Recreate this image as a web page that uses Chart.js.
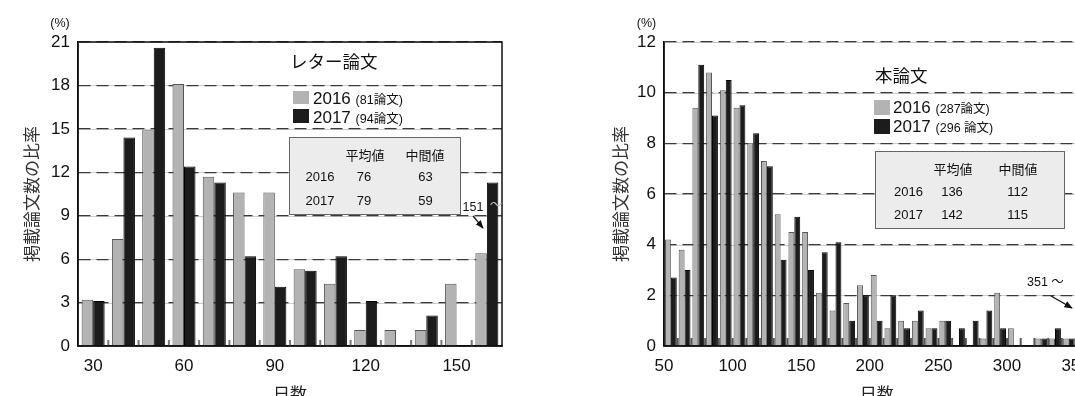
<!DOCTYPE html>
<html lang="ja">
<head>
<meta charset="utf-8">
<title>掲載日数の分布</title>
<script src="https://cdn.jsdelivr.net/npm/chart.js"></script>
<style>
  html, body { margin: 0; padding: 0; background: #fff; }
  #page { position: relative; width: 1075px; height: 396px; overflow: hidden;
          font-family: "Liberation Sans", Arial, "Noto Sans CJK JP", sans-serif; color: #111; }
  canvas { position: absolute; top: 0; }
  .t { position: absolute; white-space: nowrap; line-height: 1; transform: translate(-50%, -50%); }
  .l { position: absolute; white-space: nowrap; line-height: 1; transform: translateY(-50%); }
  .box { position: absolute; background: #ececec; border: 1px solid #666; box-sizing: border-box; }
  .sw { position: absolute; box-sizing: border-box; }
  svg { position: absolute; left: 0; top: 0; }
</style>
</head>
<body>
<div id="page">
  <canvas id="letterChart" width="520" height="420" style="left:0"></canvas>
  <canvas id="honChart" width="520" height="420" style="left:590px"></canvas>
  <svg width="1075" height="396">
    <defs>
      <marker id="head" viewBox="0 0 10 10" refX="9" refY="5" markerWidth="7" markerHeight="7" orient="auto">
        <path d="M0,1 L10,5 L0,9 z" fill="#111"></path>
      </marker>
    </defs>
    <line x1="473" y1="216" x2="483" y2="228" stroke="#111" stroke-width="1.2" marker-end="url(#head)"></line>
    <line x1="1051" y1="296" x2="1072" y2="308" stroke="#111" stroke-width="1.2" marker-end="url(#head)"></line>
  </svg>
</div>
<script>
// values (% of papers per bin of days)
const years = ['2016', '2017'];

const letterCats = ['30', '40', '50', '60', '70', '80', '90', '100', '110', '120', '130', '140', '150', '151～'];
const letterTicks = ['30', '60', '90', '120', '150'];
const letter2016 = [3.2, 7.4, 14.9, 18.1, 11.7, 10.6, 10.6, 5.3, 4.3, 1.1, 1.1, 1.1, 4.3, 6.4];
const letter2017 = [3.1, 14.4, 20.6, 12.4, 11.3, 6.2, 4.1, 5.2, 6.2, 3.1, 0, 2.1, 0, 11.3];
const letterLegend = ['(81論文)', '(94論文)'];
const letterMean = [76, 79];
const letterMedian = [63, 59];

const honBinStart = [50, 60, 70, 80, 90, 100, 110, 120, 130, 140, 150, 160, 170, 180, 190, 200,
                     210, 220, 230, 240, 250, 260, 270, 280, 290, 300, 310, 320, 330, 340, 350];
const honBinWidth = 10;
const honTicks = [50, 100, 150, 200, 250, 300, 350];
const hon2016 = [4.2, 3.8, 9.4, 10.8, 10.1, 9.4, 8.0, 7.3, 5.2, 4.5, 4.5, 2.1, 1.4, 1.7, 2.4, 2.8,
                 0.7, 1.0, 1.0, 0.7, 1.0, 0, 0, 0.3, 2.1, 0.7, 0, 0.3, 0.3, 0.3, 3.9];
const hon2017 = [2.7, 3.0, 11.1, 9.1, 10.5, 9.5, 8.4, 7.1, 3.4, 5.1, 3.0, 3.7, 4.1, 1.0, 2.0, 1.0,
                 2.0, 0.7, 1.4, 0.7, 1.0, 0.7, 1.0, 1.4, 0.7, 0, 0, 0.3, 0.7, 0.3, 4.1];
const honLegend = ['(287論文)', '(296 論文)'];
const honMean = [136, 142];
const honMedian = [112, 115];

const FONT = "'Liberation Sans', Arial, 'Noto Sans CJK JP', sans-serif";
const grayFill = '#b3b3b3';
const blackFill = '#1c1c1c';

// faint solid line under each dashed grid line, inner tick stubs, axis lines / frame
const deco = {
  id: 'deco',
  beforeDraw(chart) {
    const { ctx, chartArea: a, scales: { y } } = chart;
    ctx.save();
    ctx.strokeStyle = '#cdcdcd';
    ctx.lineWidth = 1;
    y.ticks.forEach(t => {
      if (t.value === 0) return;
      const py = Math.round(y.getPixelForValue(t.value)) + 0.5;
      ctx.beginPath(); ctx.moveTo(a.left, py); ctx.lineTo(a.right, py); ctx.stroke();
    });
    ctx.restore();
  },
  afterDatasetsDraw(chart, args, o) {
    const { ctx, chartArea: a } = chart;
    const n = chart.data.datasets[0].data.length;
    const w = (a.right - a.left) / n;
    ctx.save();
    ctx.strokeStyle = o.tickColor;
    ctx.lineWidth = 2;
    for (let i = 1; i < n; i++) {
      const x = a.left + i * w;
      ctx.beginPath(); ctx.moveTo(x, a.bottom); ctx.lineTo(x, a.bottom - o.tickLen); ctx.stroke();
    }
    ctx.strokeStyle = '#111';
    ctx.lineWidth = 1.5;
    ctx.beginPath();
    ctx.moveTo(a.left, a.top); ctx.lineTo(a.left, a.bottom); ctx.lineTo(a.right, a.bottom);
    if (o.frame) { ctx.lineTo(a.right, a.top); ctx.lineTo(a.left, a.top); }
    ctx.stroke();
    ctx.restore();
  }
};

function yScale(max, step, width, titlePad) {
  return {
    min: 0, max: max,
    afterFit: s => { s.width = width; },
    ticks: { stepSize: step, padding: 8, color: '#111', font: { size: 17, family: FONT } },
    grid: { color: '#3a3a3a', lineWidth: 1.2, drawTicks: false },
    border: { display: true, color: '#000', width: 1.5, dash: [12, 6] },
    title: { display: true, text: '掲載論文数の比率', color: '#333',
             font: { size: 17, family: FONT }, padding: { top: titlePad, bottom: 0 } }
  };
}

function xCommon() {
  return {
    afterFit: s => { s.height = 64; },
    grid: { display: false, drawTicks: false },
    border: { display: true, color: '#000', width: 1.5 },
    title: { display: true, text: '日数', color: '#222', font: { size: 17, family: FONT },
             padding: { top: 0, bottom: 4 } }
  };
}

function barSet(label, data, fill, line) {
  return { label: label, data: data, backgroundColor: fill, borderColor: line, borderWidth: 1 };
}

// ----- レター論文 -----
const letterX = xCommon();
letterX.type = 'category';
letterX.ticks = {
  autoSkip: false, maxRotation: 0, padding: 10, color: '#111', font: { size: 17, family: FONT },
  callback: function (v) {
    const l = this.getLabelForValue(v);
    return letterTicks.includes(l) ? l : '';
  }
};

new Chart(document.getElementById('letterChart'), {
  type: 'bar',
  data: {
    labels: letterCats,
    datasets: [
      barSet(years[0], letter2016, grayFill, '#555'),
      barSet(years[1], letter2017, blackFill, '#000')
    ]
  },
  options: {
    responsive: false, animation: false, devicePixelRatio: 1,
    layout: { padding: { left: 0, top: 42, right: 18, bottom: 10 } },
    datasets: { bar: { categoryPercentage: 0.76, barPercentage: 1 } },
    plugins: { legend: { display: false }, tooltip: { enabled: false },
               deco: { frame: true, tickLen: 6, tickColor: '#777' } },
    scales: { x: letterX, y: yScale(21, 3, 78, 23) }
  },
  plugins: [deco]
});

// ----- 本論文 -----
const honX = xCommon();
honX.type = 'linear';
honX.offset = false;
honX.min = honBinStart[0];
honX.max = honBinStart[honBinStart.length - 1] + honBinWidth;
honX.afterBuildTicks = s => { s.ticks = honTicks.map(v => ({ value: v })); };
honX.ticks = { autoSkip: false, maxRotation: 0, includeBounds: false, padding: 10, color: '#111',
               font: { size: 17, family: FONT } };

const toPoints = vals => honBinStart.map((d, i) => ({ x: d + honBinWidth / 2, y: vals[i] }));

new Chart(document.getElementById('honChart'), {
  type: 'bar',
  data: {
    datasets: [
      barSet(years[0], toPoints(hon2016), grayFill, '#555'),
      barSet(years[1], toPoints(hon2017), blackFill, '#000')
    ]
  },
  options: {
    responsive: false, animation: false, devicePixelRatio: 1,
    layout: { padding: { left: 0, top: 42, right: 20.7, bottom: 10 } },
    datasets: { bar: { categoryPercentage: 0.86, barPercentage: 1 } },
    plugins: { legend: { display: false }, tooltip: { enabled: false },
               deco: { frame: false, tickLen: 8, tickColor: '#555' } },
    scales: { x: honX, y: yScale(12, 2, 74, 22) }
  },
  plugins: [deco]
});

// ----- overlays: titles, legends, stats tables -----
const page = document.getElementById('page');
function put(x, y, html, size, cls, color) {
  const d = document.createElement('div');
  d.className = cls || 't';
  d.style.left = x + 'px';
  d.style.top = y + 'px';
  d.style.fontSize = size + 'px';
  if (color) d.style.color = color;
  d.innerHTML = html;
  page.appendChild(d);
  return d;
}
function rect(cls, x, y, w, h, bg) {
  const d = document.createElement('div');
  d.className = cls;
  Object.assign(d.style, { left: x + 'px', top: y + 'px', width: w + 'px', height: h + 'px' });
  if (bg) d.style.background = bg;
  page.insertBefore(d, page.querySelector('svg'));
  return d;
}
function legendRow(x, y, year, note) {
  return put(x, y, '<span style="font-size:17px">' + year + '</span> <span style="font-size:12.5px">' + note + '</span>', 17, 'l');
}

// left panel
put(60, 23, '(%)', 12.5);
put(290, 63, 'レター論文', 17.5, 'l');
rect('sw', 293, 91, 16, 13, grayFill);
rect('sw', 293, 109, 16, 14, blackFill);
legendRow(313, 98, years[0], letterLegend[0]);
legendRow(313, 117, years[1], letterLegend[1]);
rect('box', 289, 137, 172, 78);
put(365, 154.5, '平均値', 13);
put(425, 154.5, '中間値', 13);
[176, 199.5].forEach((yy, i) => {
  put(320, yy, years[i], 13);
  put(364, yy, letterMean[i], 13);
  put(425.5, yy, letterMedian[i], 13);
});
put(473, 207, '151', 12.5);
put(496, 205, '～', 12.5, 't', '#bbb');

// right panel
put(646.5, 23, '(%)', 12.5);
put(875, 77, '本論文', 17.5, 'l');
rect('sw', 874, 99.5, 16, 15, grayFill);
rect('sw', 874, 119, 16, 15, blackFill);
legendRow(893, 107, years[0], honLegend[0]);
legendRow(893, 126, years[1], honLegend[1]);
rect('box', 875, 151, 190, 78);
put(953, 168.5, '平均値', 13);
put(1018, 168.5, '中間値', 13);
[191, 213.5].forEach((yy, i) => {
  put(908.5, yy, years[i], 13);
  put(952, yy, honMean[i], 13);
  put(1017.5, yy, honMedian[i], 13);
});
put(1027, 282, '351 ～', 12.5, 'l');
</script>
</body>
</html>
